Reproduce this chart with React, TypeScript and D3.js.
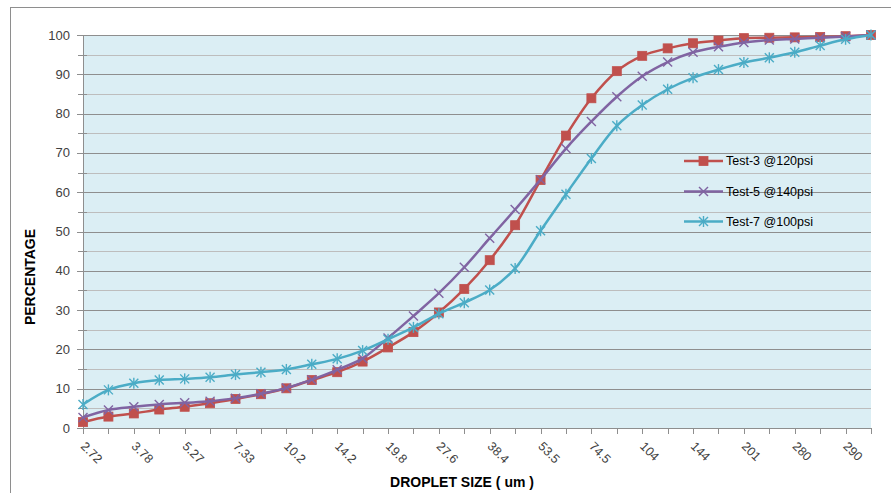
import React from "react";
import * as d3 from "d3";

const categories = [
  "2.72", "3.21", "3.78", "4.46", "5.27", "6.22", "7.33", "8.65",
  "10.2", "12.0", "14.2", "16.8", "19.8", "23.4", "27.6", "32.6",
  "38.4", "45.3", "53.5", "63.1", "74.5", "88.0", "104", "122",
  "144", "170", "201", "237", "280", "285", "290", "300",
];
// labels drawn on every other category
const labeledEvery = 2;

const test3 = [
  1.5, 2.9, 3.7, 4.7, 5.4, 6.3, 7.4, 8.6, 10.1, 12.2, 14.2, 16.9, 20.5, 24.4, 29.4, 35.4,
  42.7, 51.6, 63.1, 74.4, 83.9, 90.8, 94.7, 96.6, 97.9, 98.6, 99.2, 99.3, 99.4, 99.5, 99.7, 100,
];
const test5 = [
  2.7, 4.6, 5.4, 6.0, 6.4, 6.8, 7.6, 8.7, 10.2, 12.3, 14.8, 17.7, 22.9, 28.5, 34.3, 40.9,
  48.3, 55.6, 63.2, 71.1, 78.0, 84.3, 89.5, 93.1, 95.6, 97.0, 98.1, 98.7, 99.0, 99.3, 99.6, 100,
];
const test7 = [
  6.0, 9.7, 11.4, 12.2, 12.5, 12.9, 13.6, 14.2, 14.9, 16.2, 17.6, 19.7, 22.6, 25.6, 29.1, 31.9,
  35.1, 40.6, 50.2, 59.5, 68.6, 76.9, 82.2, 86.2, 89.1, 91.2, 93.0, 94.2, 95.6, 97.3, 98.9, 100,
];

const seriesNames = ["Test-3 @120psi", "Test-5 @140psi", "Test-7 @100psi"];
const seriesColors = ["#C0504D", "#8064A2", "#4BACC6"];
const seriesMarkers = ["square", "x", "star"];
const seriesValues = [test3, test5, test7];

const yMajorTicks = [0, 10, 20, 30, 40, 50, 60, 70, 80, 90, 100];
const yMinorTicks = [5, 15, 25, 35, 45, 55, 65, 75, 85, 95];

const W = 891;
const H = 493;
const plot = { left: 83, right: 871, top: 35, bottom: 428 };
const FONT = "'Liberation Sans', Arial, sans-serif";

function Marker({ type, x, y, color }: { type: string; x: number; y: number; color: string }) {
  if (type === "square") {
    return <rect x={x - 4.5} y={y - 4.5} width={9} height={9} fill={color} stroke={color} strokeWidth={0.8} />;
  }
  const s = 4.5;
  if (type === "x") {
    return (
      <g stroke={color} strokeWidth={1.4}>
        <line x1={x - s} y1={y - s} x2={x + s} y2={y + s} />
        <line x1={x - s} y1={y + s} x2={x + s} y2={y - s} />
      </g>
    );
  }
  return (
    <g stroke={color} strokeWidth={1.4}>
      <line x1={x - s} y1={y - s} x2={x + s} y2={y + s} />
      <line x1={x - s} y1={y + s} x2={x + s} y2={y - s} />
      <line x1={x} y1={y - s - 1} x2={x} y2={y + s + 1} />
    </g>
  );
}

export default function App() {
  const x = d3.scalePoint<string>().domain(categories).range([plot.left, plot.right]);
  const y = d3.scaleLinear().domain([0, 100]).range([plot.bottom, plot.top]);
  const line = d3
    .line<number>()
    .x((_, i) => x(categories[i]) as number)
    .y((d) => y(d))
    .curve(d3.curveCatmullRom.alpha(0.5));

  const legendY = [161, 191.5, 221.5];

  return (
    <svg
      width={W}
      height={H}
      style={{ position: "absolute", left: 0, top: 0, display: "block", background: "#fff" }}
      fontFamily={FONT}
    >
      <rect x={10.5} y={7.5} width={W + 20} height={H + 20} fill="#fff" stroke="#8e8e8e" strokeWidth={1} />
      <rect
        x={plot.left}
        y={plot.top}
        width={plot.right - plot.left}
        height={plot.bottom - plot.top}
        fill="#DBEEF4"
      />
      {yMinorTicks.map((t) => (
        <line
          key={"mi" + t}
          x1={plot.left - 5}
          x2={plot.right}
          y1={Math.round(y(t)) + 0.5}
          y2={Math.round(y(t)) + 0.5}
          stroke="#BDBDBD"
          strokeWidth={1.2}
        />
      ))}
      {yMajorTicks.map((t) => (
        <line
          key={"ma" + t}
          x1={plot.left - 6}
          x2={plot.right}
          y1={Math.round(y(t)) + 0.5}
          y2={Math.round(y(t)) + 0.5}
          stroke="#8E8E8E"
          strokeWidth={1.2}
        />
      ))}
      {yMinorTicks.map((t) => (
        <line
          key={"mit" + t}
          x1={plot.left - 5}
          x2={plot.left + 4}
          y1={Math.round(y(t)) + 0.5}
          y2={Math.round(y(t)) + 0.5}
          stroke="#8E8E8E"
          strokeWidth={1}
        />
      ))}
      <line x1={plot.left + 0.5} x2={plot.left + 0.5} y1={plot.top} y2={plot.bottom} stroke="#8E8E8E" />
      <line x1={plot.left} x2={plot.right} y1={plot.bottom + 0.5} y2={plot.bottom + 0.5} stroke="#8E8E8E" />
      {categories.map((c) => (
        <line
          key={"xt" + c}
          x1={Math.round(x(c) as number) + 0.5}
          x2={Math.round(x(c) as number) + 0.5}
          y1={plot.bottom}
          y2={plot.bottom + 6}
          stroke="#8E8E8E"
        />
      ))}
      {yMajorTicks.map((t) => (
        <text
          key={"yl" + t}
          x={70}
          y={y(t)}
          dy="0.35em"
          textAnchor="end"
          fontSize={13}
          fill="#404040"
        >
          {t}
        </text>
      ))}
      {categories.map((c, i) =>
        i % labeledEvery === 0 ? (
          <text
            key={"xl" + c}
            transform={`translate(${(x(c) as number) - 3},${plot.bottom + 19}) rotate(45)`}
            fontSize={12.5}
            fill="#404040"
          >
            {c}
          </text>
        ) : null
      )}
      {seriesValues.map((vals, si) => (
        <g key={"s" + si}>
          <path d={line(vals) || ""} fill="none" stroke={seriesColors[si]} strokeWidth={2.5} />
          {vals.map((v, i) => (
            <Marker
              key={i}
              type={seriesMarkers[si]}
              x={x(categories[i]) as number}
              y={y(v)}
              color={seriesColors[si]}
            />
          ))}
        </g>
      ))}
      {seriesNames.map((n, si) => (
        <g key={"lg" + si}>
          <line x1={684} x2={723} y1={legendY[si]} y2={legendY[si]} stroke={seriesColors[si]} strokeWidth={2.5} />
          <Marker type={seriesMarkers[si]} x={703.5} y={legendY[si]} color={seriesColors[si]} />
          <text x={726} y={legendY[si]} dy="0.35em" fontSize={12.5} fill="#000">
            {n}
          </text>
        </g>
      ))}
      <text
        transform={`translate(35,${277}) rotate(-90)`}
        textAnchor="middle"
        fontSize={14}
        fontWeight="bold"
        fill="#000"
      >
        PERCENTAGE
      </text>
      <text x={462} y={487} textAnchor="middle" fontSize={14} fontWeight="bold" fill="#000">
        DROPLET SIZE ( um )
      </text>
    </svg>
  );
}
